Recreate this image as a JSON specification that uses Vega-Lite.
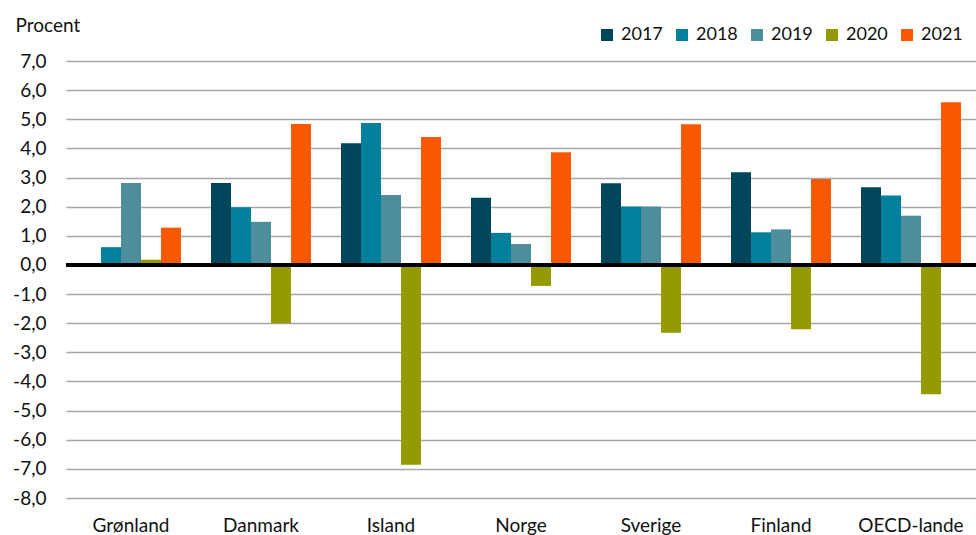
{
  "$schema": "https://vega.github.io/schema/vega-lite/v6.json",
  "width": 910,
  "height": 437,
  "autosize": "none",
  "padding": {"left": 66, "top": 61, "right": 0, "bottom": 37},
  "background": "white",
  "config": {
    "font": "Lato",
    "view": {"stroke": null}
  },
  "data": {
    "values": [
      {"land": "Grønland", "aar": "2017", "v": 0.0},
      {"land": "Grønland", "aar": "2018", "v": 0.61},
      {"land": "Grønland", "aar": "2019", "v": 2.81},
      {"land": "Grønland", "aar": "2020", "v": 0.18},
      {"land": "Grønland", "aar": "2021", "v": 1.28},
      {"land": "Danmark", "aar": "2017", "v": 2.81},
      {"land": "Danmark", "aar": "2018", "v": 1.98},
      {"land": "Danmark", "aar": "2019", "v": 1.48},
      {"land": "Danmark", "aar": "2020", "v": -2.0},
      {"land": "Danmark", "aar": "2021", "v": 4.84},
      {"land": "Island", "aar": "2017", "v": 4.18},
      {"land": "Island", "aar": "2018", "v": 4.87},
      {"land": "Island", "aar": "2019", "v": 2.4},
      {"land": "Island", "aar": "2020", "v": -6.86},
      {"land": "Island", "aar": "2021", "v": 4.39},
      {"land": "Norge", "aar": "2017", "v": 2.31},
      {"land": "Norge", "aar": "2018", "v": 1.1},
      {"land": "Norge", "aar": "2019", "v": 0.72},
      {"land": "Norge", "aar": "2020", "v": -0.72},
      {"land": "Norge", "aar": "2021", "v": 3.87},
      {"land": "Sverige", "aar": "2017", "v": 2.8},
      {"land": "Sverige", "aar": "2018", "v": 2.01},
      {"land": "Sverige", "aar": "2019", "v": 2.01},
      {"land": "Sverige", "aar": "2020", "v": -2.33},
      {"land": "Sverige", "aar": "2021", "v": 4.83},
      {"land": "Finland", "aar": "2017", "v": 3.18},
      {"land": "Finland", "aar": "2018", "v": 1.12},
      {"land": "Finland", "aar": "2019", "v": 1.22},
      {"land": "Finland", "aar": "2020", "v": -2.21},
      {"land": "Finland", "aar": "2021", "v": 2.95},
      {"land": "OECD-lande", "aar": "2017", "v": 2.67},
      {"land": "OECD-lande", "aar": "2018", "v": 2.38},
      {"land": "OECD-lande", "aar": "2019", "v": 1.69},
      {"land": "OECD-lande", "aar": "2020", "v": -4.44},
      {"land": "OECD-lande", "aar": "2021", "v": 5.58}
    ]
  },
  "layer": [
    {
      "mark": {"type": "bar"},
      "encoding": {
        "x": {
          "field": "land", "type": "nominal", "sort": null,
          "scale": {"paddingInner": 0.2308, "paddingOuter": 0.1154},
          "axis": {
            "title": null, "labelAngle": 0, "ticks": false, "domain": false,
            "labelFontSize": 19, "labelColor": "#111111", "labelPadding": 18, "labelBaseline": "top"
          }
        },
        "xOffset": {"field": "aar", "type": "nominal", "scale": {"paddingInner": 0, "paddingOuter": 0}},
        "y": {
          "field": "v", "type": "quantitative",
          "scale": {"domain": [-8, 7], "nice": false, "zero": false},
          "axis": {
            "values": [-8, -7, -6, -5, -4, -3, -2, -1, 0, 1, 2, 3, 4, 5, 6, 7],
            "format": ".1f", "formatType": "number",
            "labelExpr": "replace(replace(datum.label, '.', ','), '\u2212', '-')",
            "labelOverlap": false, "labelFlush": false, "labelBound": false,
            "grid": true, "gridColor": "#a6a6a6", "gridWidth": 1.5,
            "ticks": false, "domain": false,
            "labelFontSize": 19, "labelColor": "#111111", "labelPadding": 20,
            "title": "Procent", "titleAngle": 0, "titleAlign": "left", "titleBaseline": "middle",
            "titleX": -51, "titleY": -36, "titleFontSize": 19, "titleFontWeight": "normal", "titleColor": "#111111"
          }
        },
        "color": {
          "field": "aar", "type": "nominal", "title": null,
          "scale": {"domain": ["2017", "2018", "2019", "2020", "2021"], "range": ["#00465A", "#00809A", "#4E8E9B", "#949B00", "#FA5800"]},
          "legend": {
            "orient": "none", "legendX": 532, "legendY": -35, "direction": "horizontal", "columns": 5,
            "symbolType": "square", "symbolSize": 144, "symbolStrokeWidth": 0, "symbolOpacity": 1,
            "labelFontSize": 18, "labelColor": "#111111", "labelOffset": 5, "columnSpacing": 20
          }
        }
      }
    },
    {
      "mark": {"type": "rule", "color": "black", "strokeWidth": 2.5},
      "encoding": {
        "y": {
          "datum": 0, "type": "quantitative",
          "axis": {
            "values": [-8, -7, -6, -5, -4, -3, -2, -1, 0, 1, 2, 3, 4, 5, 6, 7],
            "format": ".1f", "formatType": "number",
            "labelExpr": "replace(replace(datum.label, '.', ','), '\u2212', '-')",
            "labelOverlap": false, "labelFlush": false, "labelBound": false,
            "grid": true, "gridColor": "#a6a6a6", "gridWidth": 1.5,
            "ticks": false, "domain": false,
            "labelFontSize": 19, "labelColor": "#111111", "labelPadding": 20,
            "title": "Procent", "titleAngle": 0, "titleAlign": "left", "titleBaseline": "middle",
            "titleX": -51, "titleY": -36, "titleFontSize": 19, "titleFontWeight": "normal", "titleColor": "#111111"
          }
        }
      }
    }
  ]
}
